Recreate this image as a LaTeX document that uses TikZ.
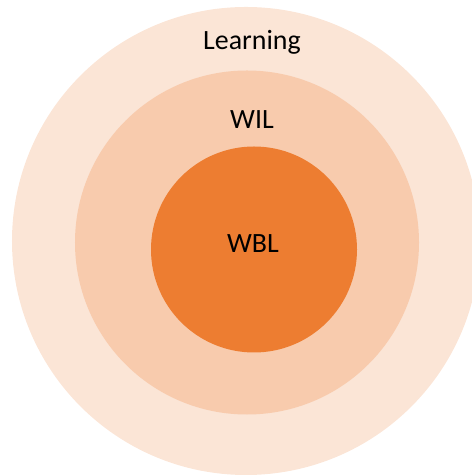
\documentclass[tikz,border=0pt]{standalone}
\usepackage{fontspec}
\setmainfont{Carlito}
\definecolor{outerfill}{HTML}{FBE5D6}
\definecolor{midfill}{HTML}{F8CBAD}
\definecolor{corefill}{HTML}{ED7D31}
\begin{document}
\begin{tikzpicture}[
            x = 1bp, y = 1bp,
            ring/.style = {circle, inner sep = 0mm, draw = none},
            lbl/.style = {anchor = base, inner sep = 0mm, font = \fontsize{28}{32}\selectfont},
        ]
        \useasboundingbox (0,0) rectangle (472,475);
        \node (learning) [ring, fill=outerfill, minimum size = 468bp] at (246,234){};
        \node (wil) [ring, fill=midfill, minimum size = 344bp] at (247,232.5){};
        \node (wbl) [ring, fill=corefill, minimum size = 206bp] at (254,225.5){};

        \node (tlearning) [lbl] at (252,425){Learning};
        \node (twil) [lbl] at (252,346){WIL};
        \node (twbl) [lbl] at (253,222){WBL};
    \end{tikzpicture}
\end{document}
